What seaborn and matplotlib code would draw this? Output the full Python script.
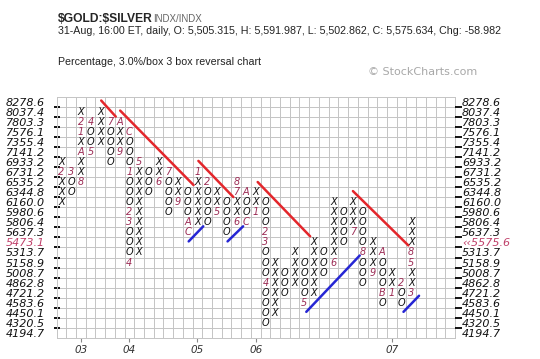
import matplotlib
matplotlib.use("Agg")
import matplotlib.pyplot as plt
import numpy as np
import pandas as pd
import seaborn as sns

# 3% boxes, top row first
box_prices = ["8278.6", "8037.4", "7803.3", "7576.1", "7355.4", "7141.2",
              "6933.2", "6731.2", "6535.2", "6344.8", "6160.0", "5980.6",
              "5806.4", "5637.3", "5473.1", "5313.7", "5158.9", "5008.7",
              "4862.8", "4721.2", "4583.6", "4450.1", "4320.5", "4194.7"]

# one entry per column: X or O, highest and lowest box (row index from the top)
col_kind = list("XO" * 18 + "X")
col_top = [6, 7, 1, 2, 1, 2, 2, 3, 6, 7, 6, 7, 8, 9, 7, 8, 9, 10, 8, 9,
           9, 10, 16, 17, 15, 16, 14, 15, 10, 11, 10, 11, 14, 15, 17, 18, 12]
col_bottom = [10, 9, 8, 5, 4, 6, 5, 16, 15, 9, 8, 11, 10, 13, 12, 12, 11, 13, 12, 12,
              11, 22, 21, 19, 18, 20, 19, 17, 16, 14, 13, 18, 17, 20, 19, 20, 19]

# month markers (1-9, A=Oct, B=Nov, C=Dec) replacing a box
mark_col = [0, 1, 2, 2, 2, 2, 3, 3, 5, 6, 6, 7, 7, 7, 7, 7, 8, 10, 11, 12, 13, 13,
            14, 15, 16, 18, 18, 18, 19, 19, 20, 21, 21, 21, 25, 28, 30, 31, 32, 33,
            33, 34, 35, 36, 36, 36]
mark_row = [7, 7, 8, 5, 3, 2, 2, 5, 2, 2, 5, 3, 7, 11, 12, 16, 6, 8, 7, 10, 12, 13,
            7, 8, 11, 8, 9, 12, 9, 12, 11, 13, 14, 18, 20, 16, 13, 15, 17, 15,
            19, 19, 18, 15, 16, 19]
mark_text = ["2", "3", "8", "A", "1", "2", "4", "5", "7", "A", "9", "C", "1", "2", "3",
             "4", "5", "6", "7", "9", "A", "C", "1", "2", "5", "8", "7", "6", "A", "C",
             "1", "2", "3", "4", "5", "6", "7", "8", "9", "A", "B", "1", "2", "8", "5", "3"]

year_cols = [2, 7, 14, 20, 34]
year_labels = ["03", "04", "05", "06", "07"]

last_row = 14
last_label = "\u2039\u20395575.6"

# trend lines, (column, row) end points
res_x0 = [4.1, 6.05, 14.1, 20.2, 30.0]
res_y0 = [-0.1, 0.9, 5.9, 8.0, 8.9]
res_x1 = [5.6, 13.6, 17.7, 25.6, 35.7]
res_y1 = [1.5, 8.3, 9.5, 13.4, 14.3]
sup_x0 = [13.1, 17.1, 25.2, 35.2]
sup_y0 = [13.9, 13.9, 20.9, 20.9]
sup_x1 = [14.6, 18.7, 30.7, 36.8]
sup_y1 = [12.4, 12.4, 15.3, 19.3]

n_cols = 41
grid_col = "#c4c4c4"
mark_color = "#9c2c55"

sns.set_theme(style="white")
plt.rcParams["font.family"] = ["DejaVu Sans"]

marks = {(c, r): t for c, r, t in zip(mark_col, mark_row, mark_text)}
rows = []
for c, (k, top, bot) in enumerate(zip(col_kind, col_top, col_bottom)):
    for r in range(top, bot + 1):
        rows.append({"col": c, "row": r, "sym": marks.get((c, r), k),
                     "month": (c, r) in marks})
cells = pd.DataFrame(rows)

segs = []
for i, (a, b, c, d) in enumerate(zip(res_x0, res_y0, res_x1, res_y1)):
    segs += [{"seg": f"r{i}", "kind": "res", "x": a, "y": b},
             {"seg": f"r{i}", "kind": "res", "x": c, "y": d}]
for i, (a, b, c, d) in enumerate(zip(sup_x0, sup_y0, sup_x1, sup_y1)):
    segs += [{"seg": f"s{i}", "kind": "sup", "x": a, "y": b},
             {"seg": f"s{i}", "kind": "sup", "x": c, "y": d}]
lines = pd.DataFrame(segs)

fig = plt.figure(figsize=(5.4, 3.59), dpi=100)
fig.patch.set_facecolor("white")
ax = fig.add_axes([56.5 / 540, 1 - 338 / 359, (455 - 56.5) / 540, (338 - 96.5) / 359])
ax.set_xlim(-0.5, n_cols - 0.5)
ax.set_ylim(len(box_prices) - 0.5, -0.5)

# grid on box boundaries
ax.set_xticks(np.arange(0.5, n_cols - 1, 1), minor=True)
ax.set_yticks(np.arange(0.5, len(box_prices) - 1, 1), minor=True)
ax.grid(which="minor", color=grid_col, lw=0.7)
ax.grid(which="major", visible=False)
for s in ax.spines.values():
    s.set_color(grid_col)
    s.set_linewidth(0.7)

ax.set_yticks(range(len(box_prices)))
ax.set_yticklabels(box_prices, fontstyle="italic", fontsize=8, color="#111")
ax.tick_params(axis="y", which="major", length=0, pad=8.5)
ax.tick_params(axis="y", which="minor", direction="inout", length=5, width=1.3,
               color="black", left=True)
ax.tick_params(axis="x", which="minor", length=0)
ax.get_yticklabels()[last_row].set_color("#c0406a")

ax.set_xticks(year_cols)
ax.set_xticklabels(year_labels, fontstyle="italic", fontsize=7.5, color="#333")
ax.tick_params(axis="x", which="major", length=3, width=0.8, color="#888",
               direction="out", bottom=True, pad=2)

axr = ax.twinx()
axr.set_ylim(ax.get_ylim())
right_labels = list(box_prices)
right_labels[last_row] = last_label
axr.set_yticks(range(len(box_prices)))
axr.set_yticklabels(right_labels, fontstyle="italic", fontsize=8, color="#111")
axr.get_yticklabels()[last_row].set_color("#c0406a")
axr.set_yticks(np.arange(0.5, len(box_prices) - 1, 1), minor=True)
axr.tick_params(axis="y", which="major", length=0, pad=5)
axr.tick_params(axis="y", which="minor", direction="out", length=5, width=1.3,
                color="black", right=True)
axr.grid(False)
for s in axr.spines.values():
    s.set_visible(False)

for rec in cells.itertuples():
    ax.text(rec.col, rec.row, rec.sym, ha="center", va="center",
            fontsize=7, fontstyle="italic",
            color=mark_color if rec.month else "#111")

sns.lineplot(data=lines, x="x", y="y", hue="kind", units="seg", estimator=None,
             sort=False, palette={"res": "#e3262b", "sup": "#2626d4"},
             lw=1.8, legend=False, ax=ax)
ax.set_xlabel("")
ax.set_ylabel("")

# header
fig.text(58 / 540, 1 - 21.5 / 359, "$GOLD:$SILVER", parse_math=False,
         family="Liberation Sans", weight="bold", fontsize=8.7, va="baseline")
fig.text(153 / 540, 1 - 21.5 / 359, "INDX/INDX", family="Liberation Sans",
         fontsize=7, color="#666", va="baseline")
fig.text(58 / 540, 1 - 34 / 359,
         "31-Aug, 16:00 ET, daily, O: 5,505.315, H: 5,591.987, L: 5,502.862, "
         "C: 5,575.634, Chg: -58.982",
         family="Liberation Sans", fontsize=7.7, color="#222", va="baseline")
fig.text(58 / 540, 1 - 65 / 359, "Percentage, 3.0%/box 3 box reversal chart",
         family="Liberation Sans", fontsize=7.7, color="#222", va="baseline")
fig.text(477 / 540, 1 - 75 / 359, "\u00a9 StockCharts.com", ha="right",
         family="DejaVu Sans", fontsize=8, color="#a8a8a8", va="baseline")

fig.savefig("out.png", dpi=100, facecolor="white")
